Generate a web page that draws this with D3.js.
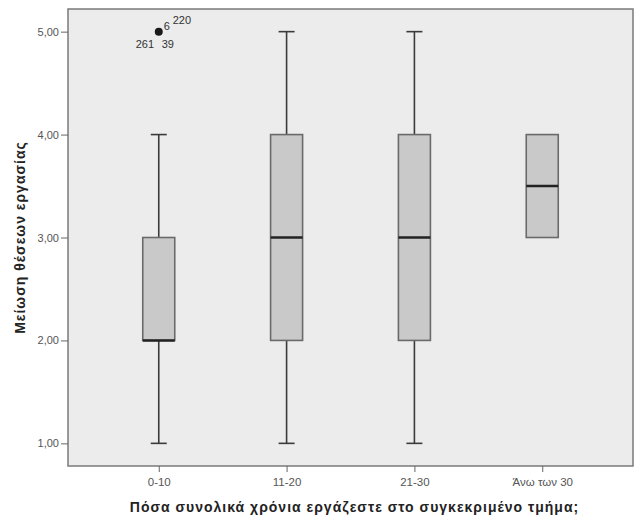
<!DOCTYPE html>
<html>
<head>
<meta charset="utf-8">
<script src="https://cdn.jsdelivr.net/npm/d3@7"></script>
<style>
  body { margin: 0; background: #fff; }
  text { font-family: "Liberation Sans", Arial, sans-serif; }
</style>
</head>
<body>
<div id="chart"></div>
<script>
const categories = ["0-10", "11-20", "21-30", "Άνω των 30"];
const whiskerLow = [1, 1, 1, null];
const q1 = [2, 2, 2, 3];
const medians = [2, 3, 3, 3.5];
const q3 = [3, 4, 4, 4];
const whiskerHigh = [4, 5, 5, null];
const outliers = [{ cat: "0-10", value: 5 }];
const outlierLabels = [
  { text: "6", dx: 5, dy: -2 },
  { text: "220", dx: 14, dy: -8 },
  { text: "261", dx: -23, dy: 16 },
  { text: "39", dx: 3, dy: 16 }
];
const yTicks = [1, 2, 3, 4, 5];

const W = 634, H = 522;
const margin = { top: 9, right: 1, bottom: 56, left: 68 };
const width = W - margin.left - margin.right;
const height = H - margin.top - margin.bottom;

const svg = d3.select("#chart").append("svg")
  .attr("width", W).attr("height", H)
  .append("g")
  .attr("transform", "translate(" + margin.left + "," + margin.top + ")");

const x = d3.scalePoint().domain(categories).range([0, width]).padding(0.71);
const y = d3.scaleLinear().domain([0.78, 5.22]).range([height, 0]);

// plot background
svg.append("rect")
  .attr("width", width).attr("height", height)
  .attr("fill", "#ececec");

const boxW = 32, capW = 16;
const boxes = categories.map(function(c, i) {
  return { cat: c, lo: whiskerLow[i], q1: q1[i], med: medians[i], q3: q3[i], hi: whiskerHigh[i] };
});

const g = svg.selectAll(".box").data(boxes).enter().append("g").attr("class", "box");

// whiskers
g.filter(d => d.lo !== null).each(function(d) {
  const s = d3.select(this);
  const cx = x(d.cat);
  s.append("line").attr("x1", cx).attr("x2", cx).attr("y1", y(d.lo)).attr("y2", y(d.q1))
    .attr("stroke", "#3a3a3a").attr("stroke-width", 1.6);
  s.append("line").attr("x1", cx).attr("x2", cx).attr("y1", y(d.q3)).attr("y2", y(d.hi))
    .attr("stroke", "#3a3a3a").attr("stroke-width", 1.6);
  s.append("line").attr("x1", cx - capW / 2).attr("x2", cx + capW / 2).attr("y1", y(d.lo)).attr("y2", y(d.lo))
    .attr("stroke", "#3a3a3a").attr("stroke-width", 1.6);
  s.append("line").attr("x1", cx - capW / 2).attr("x2", cx + capW / 2).attr("y1", y(d.hi)).attr("y2", y(d.hi))
    .attr("stroke", "#3a3a3a").attr("stroke-width", 1.6);
});

g.append("rect")
  .attr("x", d => x(d.cat) - boxW / 2)
  .attr("width", boxW)
  .attr("y", d => y(d.q3))
  .attr("height", d => y(d.q1) - y(d.q3))
  .attr("fill", "#c9c9c9")
  .attr("stroke", "#6a6a6a")
  .attr("stroke-width", 1.6);

g.append("line")
  .attr("x1", d => x(d.cat) - boxW / 2)
  .attr("x2", d => x(d.cat) + boxW / 2)
  .attr("y1", d => y(d.med))
  .attr("y2", d => y(d.med))
  .attr("stroke", "#222")
  .attr("stroke-width", 2.4);

// outliers
svg.selectAll(".outlier").data(outliers).enter().append("circle")
  .attr("cx", d => x(d.cat)).attr("cy", d => y(d.value))
  .attr("r", 4).attr("fill", "#1a1a1a");

svg.selectAll(".olabel").data(outlierLabels).enter().append("text")
  .attr("x", x(outliers[0].cat) + 0)
  .attr("y", y(outliers[0].value))
  .attr("dx", d => d.dx).attr("dy", d => d.dy)
  .attr("font-size", 11).attr("fill", "#333")
  .text(d => d.text);

// frame
svg.append("rect")
  .attr("width", width).attr("height", height)
  .attr("fill", "none").attr("stroke", "#7a7a7a").attr("stroke-width", 1.5);

// axes
const yAxis = svg.append("g")
  .call(d3.axisLeft(y).tickValues(yTicks).tickSize(7).tickSizeOuter(0)
    .tickFormat(d => d3.format(".2f")(d).replace(".", ",")));
yAxis.select(".domain").remove();
yAxis.selectAll("line").attr("stroke", "#666");
yAxis.selectAll("text").attr("font-size", 11).attr("fill", "#555")
  .attr("font-family", "'Liberation Sans', Arial, sans-serif").attr("dx", 1);

const xAxis = svg.append("g")
  .attr("transform", "translate(0," + height + ")")
  .call(d3.axisBottom(x).tickSize(6).tickSizeOuter(0));
xAxis.select(".domain").remove();
xAxis.selectAll("line").attr("stroke", "#666");
xAxis.selectAll("text").attr("font-size", 11.5).attr("fill", "#555")
  .attr("font-family", "'Liberation Sans', Arial, sans-serif").attr("dy", "0.95em");

// titles
svg.append("text")
  .attr("x", width / 2 + 4).attr("y", height + 46)
  .attr("text-anchor", "middle")
  .attr("font-size", 14).attr("font-weight", "bold").attr("fill", "#222")
  .attr("letter-spacing", 1)
  .text("Πόσα συνολικά χρόνια εργάζεστε στο συγκεκριμένο τμήμα;");

svg.append("text")
  .attr("transform", "translate(" + (-43) + "," + (height / 2) + ") rotate(-90)")
  .attr("text-anchor", "middle")
  .attr("font-size", 14).attr("font-weight", "bold").attr("fill", "#222")
  .attr("letter-spacing", 1)
  .text("Μείωση θέσεων εργασίας");
</script>
</body>
</html>
